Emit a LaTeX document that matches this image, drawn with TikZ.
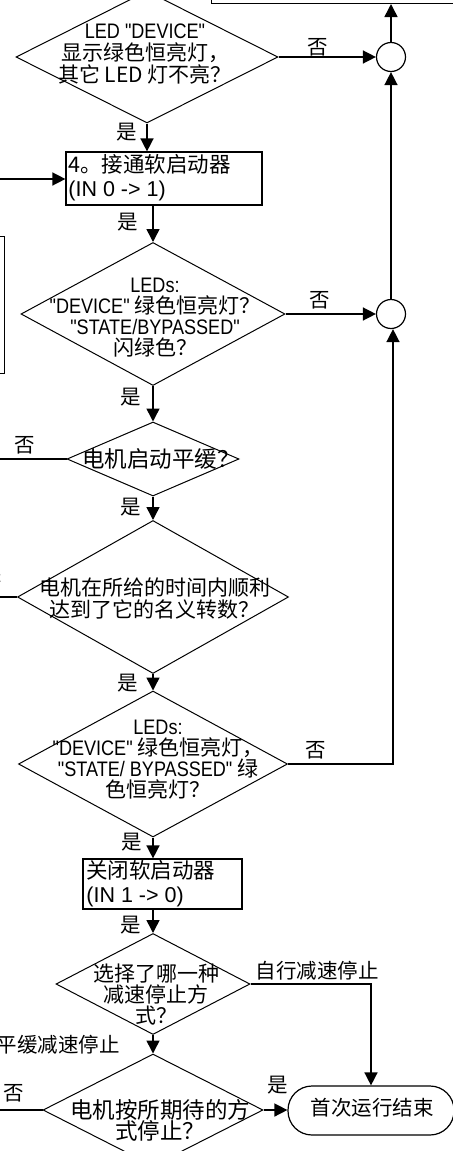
\documentclass[tikz,border=0pt]{standalone}
\usepackage{fontspec}
\setmainfont{Liberation Sans}
\newfontfamily\cjk{Noto Sans CJK SC}
\newfontfamily\latf{Liberation Sans}[FakeStretch=0.86]
\newfontfamily\latb{Liberation Sans}
\usetikzlibrary{shapes.geometric,arrows.meta}
\newcommand\la[1]{{\latf #1}}
\newcommand\lb[1]{{\latb #1}}
\begin{document}
\begin{tikzpicture}[x=0.5pt,y=-0.5pt,
  dia/.style={draw,shape=diamond,line width=0.5pt,inner sep=0pt},
  boxn/.style={draw,line width=0.6pt,rectangle,inner sep=0pt},
  txt/.style={font=\cjk\fontsize{10.5pt}{11pt}\selectfont,align=center,inner sep=0pt},
  txts/.style={font=\cjk\fontsize{10.5pt}{10.5pt}\selectfont,align=center,inner sep=0pt},
  txtl/.style={font=\cjk\fontsize{11.25pt}{10.5pt}\selectfont,align=center,inner sep=0pt},
  boxt/.style={font=\cjk\fontsize{10.75pt}{12pt}\selectfont,align=left,inner sep=0pt,anchor=west},
  lbl/.style={font=\cjk\fontsize{10.25pt}{11pt}\selectfont,inner sep=0pt},
  conn/.style={line width=0.75pt,-{Triangle[length=6.5pt,width=6.5pt]}},
  plain/.style={line width=0.75pt},
  junc/.style={draw,circle,line width=0.6pt,minimum size=14.5pt,inner sep=0pt},
]
\useasboundingbox (0,0) rectangle (453,1151);
% partial boxes at edges
\node[boxn,anchor=south west,minimum width=150pt,minimum height=30pt] (top) at (211,4) {};
\node[boxn,anchor=north east,minimum width=40pt,minimum height=68.5pt] (lbox) at (5,236) {};
% junctions
\node[junc] (c1) at (391,57) {};
\node[junc] (c2) at (391,314) {};
% diamonds
\node[dia,minimum width=131pt,minimum height=66pt] (d1) at (147,57) {};
\node[dia,minimum width=132pt,minimum height=71.5pt] (d2) at (153,314) {};
\node[dia,minimum width=86pt,minimum height=37pt] (d3) at (153,459) {};
\node[dia,minimum width=135.5pt,minimum height=76.5pt] (d4) at (153,597) {};
\node[dia,minimum width=134.5pt,minimum height=73pt] (d5) at (153,764) {};
\node[dia,minimum width=97pt,minimum height=50.5pt] (d7) at (153,984) {};
\node[dia,minimum width=110pt,minimum height=56pt] (d8) at (153,1110) {};
% boxes
\node[boxn,minimum width=98pt,minimum height=26.5pt] (b4) at (164,178.5) {};
\node[boxn,minimum width=79.5pt,minimum height=25pt] (b6) at (162.5,884) {};
\node[draw,line width=0.6pt,rounded corners=12pt,minimum width=83pt,minimum height=24.5pt,inner sep=0pt] (term) at (371,1110.5) {};
% texts
\node[txt] (d1t) at (145,54) {\la{LED "DEVICE"}\\显示绿色恒亮灯，\\其它 LED 灯不亮？};
\node[txts] (d2t) at (155,318) {\la{LEDs:}\\\la{"DEVICE"} 绿色恒亮灯？\\\la{"STATE/BYPASSED"}\\闪绿色？};
\node[txtl] (d3t) at (161,459) {电机启动平缓？};
\node[txt] (d4t) at (155,599) {电机在所给的时间内顺利\\达到了它的名义转数？};
\node[txts] (d5t) at (158,760) {\la{LEDs:}\\\la{"DEVICE"} 绿色恒亮灯，\\\la{"STATE/ BYPASSED"} 绿\\色恒亮灯？};
\node[txts] (d7t) at (156,995) {选择了哪一种\\减速停止方\\式？};
\node[txtl] (d8t) at (160,1120) {电机按所期待的方\\式停止？};
\node[boxt] (b4t) at (68,178) {4。接通软启动器\\\lb{(IN 0 -> 1)}};
\node[boxt] (b6t) at (86,884) {关闭软启动器\\\lb{(IN 1 -> 0)}};
\node[lbl] (termt) at (372,1108) {首次运行结束};
% free ends
\coordinate (e4) at (-10,179);
\coordinate (e3) at (-10,459);
\coordinate (e4b) at (-10,597);
\coordinate (e8) at (-10,1110);
% connectors
\draw[conn] (d1.east) -- (c1.west);
\draw[conn] (c1.north) -- (c1.north |- top.south);
\draw[conn] (c2.north) -- (c1.south);
\draw[conn] (d2.east) -- (c2.west);
\draw[conn] (d5.east) -| ([xshift=1pt]c2.south);
\draw[conn] (d1.south) -- (d1.south |- b4.north);
\draw[conn] (e4) -- (e4 -| b4.west);
\draw[conn] (d2.north |- b4.south) -- (d2.north);
\draw[conn] (d2.south) -- (d3.north);
\draw[conn] (d3.south) -- (d4.north);
\draw[conn] (d4.south) -- (d5.north);
\draw[conn] (d5.south) -- (d5.south |- b6.north);
\draw[conn] (d7.north |- b6.south) -- (d7.north);
\draw[conn] (d7.south) -- (d8.north);
\draw[conn] (d7.east) -| (term.north);
\draw[conn] (d8.east) -- (d8.east -| term.west);
\draw[plain] (d3.west) -- (e3);
\draw[plain] (d4.west) -- (e4b);
\draw[plain] (d8.west) -- (e8);
% labels
\node[lbl] (y1) at (127,132) {是};
\node[lbl] (y2) at (128,222) {是};
\node[lbl] (y3) at (131,397) {是};
\node[lbl] (y4) at (131,507) {是};
\node[lbl] (y5) at (128,683) {是};
\node[lbl] (y6) at (132,842) {是};
\node[lbl] (y7) at (131,925) {是};
\node[lbl] (y8) at (278,1085) {是};
\node[lbl] (n1) at (318,47) {否};
\node[lbl] (n2) at (320,300) {否};
\node[lbl] (n3) at (25,445) {否};
\node[lbl] (n4) at (-8,583) {否};
\node[lbl] (n5) at (316,750) {否};
\node[lbl] (n8) at (14,1093) {否};
\node[lbl] (s1) at (317,971) {自行减速停止};
\node[lbl] (s2) at (58,1045) {平缓减速停止};
\end{tikzpicture}
\end{document}
